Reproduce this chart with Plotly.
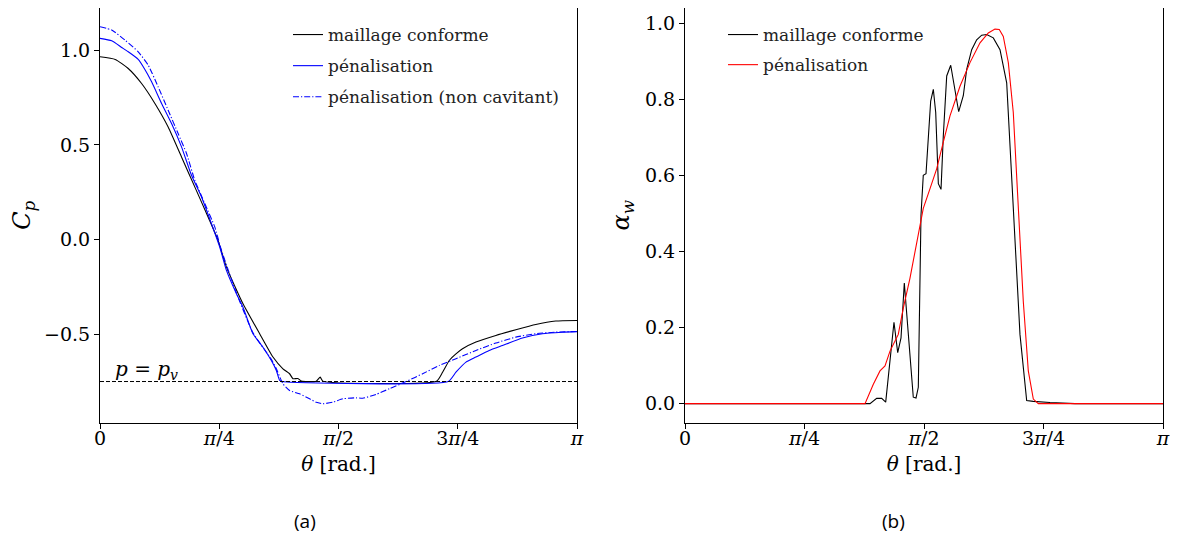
import numpy as np
import plotly.graph_objects as go

PI = np.pi

# ---------------- (a) pressure coefficient ----------------
# theta given as fraction of pi
cp_conf_theta = [0.0, 0.032, 0.0592, 0.0872, 0.1151, 0.1429, 0.1709, 0.1987, 0.2266, 0.2475,
                 0.2651, 0.2998, 0.3347, 0.3626, 0.3835, 0.3975, 0.4044, 0.4149, 0.4220,
                 0.4533, 0.4617, 0.4672, 0.7056, 0.7182, 0.7322, 0.7462, 0.7600, 0.7881,
                 0.8299, 0.8718, 0.9136, 0.9554, 1.0]
cp_conf = [0.965, 0.951, 0.903, 0.824, 0.719, 0.595, 0.437, 0.279, 0.120, -0.003,
           -0.144, -0.337, -0.495, -0.618, -0.680, -0.706, -0.732, -0.731, -0.745,
           -0.745, -0.724, -0.745, -0.745, -0.698, -0.636, -0.601, -0.574, -0.539,
           -0.504, -0.474, -0.446, -0.428, -0.425]

cp_pen_theta = [0.0, 0.0245, 0.0454, 0.0592, 0.0801, 0.0941, 0.1082, 0.1291, 0.1500, 0.1709,
                0.1918, 0.2128, 0.2337, 0.2510, 0.2651, 0.2860, 0.2998, 0.3207, 0.3416,
                0.3592, 0.3697, 0.3766, 0.3828, 0.7301, 0.7462, 0.7672, 0.7881, 0.8159,
                0.8437, 0.8856, 0.9274, 0.9692, 1.0]
cp_pen = [1.062, 1.049, 1.014, 0.991, 0.951, 0.898, 0.833, 0.719, 0.613, 0.490,
          0.340, 0.226, 0.085, -0.038, -0.161, -0.284, -0.355, -0.495, -0.566,
          -0.636, -0.689, -0.741, -0.747, -0.747, -0.698, -0.645, -0.618, -0.583,
          -0.557, -0.518, -0.495, -0.487, -0.484]

cp_nc_theta = [0.0, 0.0245, 0.0523, 0.0801, 0.1010, 0.1220, 0.1429, 0.1638, 0.1814, 0.1987,
               0.2197, 0.2406, 0.2546, 0.2860, 0.3207, 0.3592, 0.3697, 0.3835, 0.3975,
               0.4184, 0.4393, 0.4533, 0.4672, 0.4881, 0.5090, 0.5370, 0.5508, 0.5788,
               0.6067, 0.6416, 0.6764, 0.7113, 0.7462, 0.7881, 0.8299, 0.8718, 0.9136,
               0.9554, 1.0]
cp_nc = [1.123, 1.106, 1.053, 0.991, 0.921, 0.806, 0.683, 0.560, 0.455, 0.314,
         0.191, 0.068, -0.055, -0.280, -0.490, -0.630, -0.680, -0.759, -0.794,
         -0.812, -0.838, -0.856, -0.864, -0.856, -0.838, -0.833, -0.835, -0.815,
         -0.785, -0.747, -0.706, -0.662, -0.627, -0.583, -0.544, -0.513, -0.495,
         -0.487, -0.483]

PV_LEVEL = -0.747

# ---------------- (b) void fraction ----------------
aw_conf_theta = [0.0, 0.387, 0.401, 0.4115, 0.4199, 0.4372, 0.4450, 0.4519, 0.4588, 0.4776,
                 0.4833, 0.4881, 0.4937, 0.4985, 0.5042, 0.5090, 0.5140, 0.5195, 0.5245,
                 0.5300, 0.5356, 0.5404, 0.5475, 0.5559, 0.5649, 0.5726, 0.5822, 0.5893,
                 0.5998, 0.6102, 0.6207, 0.6312, 0.6450, 0.6590, 0.6730, 0.6868, 0.7008,
                 0.7148, 0.7287, 0.7636, 0.8159, 1.0]
aw_conf = [0.0, 0.0, 0.014, 0.014, 0.004, 0.214, 0.134, 0.173, 0.317, 0.017,
           0.015, 0.043, 0.495, 0.600, 0.604, 0.704, 0.795, 0.826, 0.765,
           0.578, 0.563, 0.704, 0.861, 0.889, 0.817, 0.767, 0.809, 0.878,
           0.930, 0.956, 0.968, 0.970, 0.961, 0.930, 0.843, 0.530, 0.182,
           0.008, 0.006, 0.003, 0.0, 0.0]

aw_pen_theta = [0.0, 0.3766, 0.3940, 0.4079, 0.4184, 0.4289, 0.4462, 0.4567, 0.4707, 0.4847,
                0.4985, 0.5126, 0.5265, 0.5404, 0.5544, 0.5753, 0.5962, 0.6172, 0.6345,
                0.6485, 0.6575, 0.6659, 0.6764, 0.6868, 0.6973, 0.7077, 0.7182, 0.7287,
                0.7391, 1.0]
aw_pen = [0.0, 0.0, 0.051, 0.086, 0.099, 0.138, 0.182, 0.251, 0.330, 0.426,
          0.513, 0.565, 0.617, 0.687, 0.756, 0.834, 0.896, 0.948, 0.974,
          0.984, 0.983, 0.965, 0.896, 0.765, 0.530, 0.269, 0.086, 0.012,
          0.0, 0.0]

x_tickvals = [0, PI / 4, PI / 2, 3 * PI / 4, PI]
x_ticktext = ["0", "<i>π</i>/4", "<i>π</i>/2", "3<i>π</i>/4", "<i>π</i>"]

SERIF = "DejaVu Serif"
SANS = "Open Sans"

# the page body adds an 8px offset; positions below are given in reference pixels
OFF = 8
W, H = 1178, 540


def px_x(p):
    return min(1.0, max(0.0, (p - OFF) / W))


def px_y(p):
    return min(1.0, max(0.0, 1 - (p - OFF) / H))


def rad(lst):
    return [v * PI for v in lst]


fig = go.Figure()

lw = 1.1
fig.add_trace(go.Scatter(x=rad(cp_conf_theta), y=cp_conf, mode="lines", name="maillage conforme",
                         line=dict(color="black", width=lw, shape="spline", smoothing=0.5),
                         xaxis="x", yaxis="y", legend="legend", legendgroup="a1"))
fig.add_trace(go.Scatter(x=rad(cp_pen_theta), y=cp_pen, mode="lines", name="pénalisation",
                         line=dict(color="#0000ff", width=lw, shape="spline", smoothing=0.5),
                         xaxis="x", yaxis="y", legend="legend", legendgroup="a2"))
fig.add_trace(go.Scatter(x=rad(cp_nc_theta), y=cp_nc, mode="lines", name="pénalisation (non cavitant)",
                         line=dict(color="#0000ff", width=lw, dash="6px,2px,1.2px,2px",
                                   shape="spline", smoothing=0.5),
                         xaxis="x", yaxis="y", legend="legend", legendgroup="a3"))
fig.add_trace(go.Scatter(x=[0, PI], y=[PV_LEVEL, PV_LEVEL], mode="lines", showlegend=False,
                         line=dict(color="black", width=1, dash="4px,2px"), xaxis="x", yaxis="y"))

fig.add_trace(go.Scatter(x=rad(aw_conf_theta), y=aw_conf, mode="lines", name="maillage conforme",
                         line=dict(color="black", width=lw), xaxis="x2", yaxis="y2",
                         legend="legend2", legendgroup="b1"))
fig.add_trace(go.Scatter(x=rad(aw_pen_theta), y=aw_pen, mode="lines", name="pénalisation",
                         line=dict(color="#ff0000", width=lw), xaxis="x2", yaxis="y2",
                         legend="legend2", legendgroup="b2"))

axis_common = dict(showline=True, linecolor="black", linewidth=1, mirror=True,
                   ticks="outside", ticklen=5, tickwidth=1, tickcolor="black",
                   showgrid=False, zeroline=False, automargin=False,
                   tickfont=dict(family=SERIF, size=19, color="black"))

ydom = [px_y(422.5), px_y(7.5)]

fig.update_layout(
    width=W, height=H,
    margin=dict(l=0, r=0, t=0, b=0, autoexpand=False),
    paper_bgcolor="white", plot_bgcolor="white",
    font=dict(family=SERIF, color="black"),
    xaxis=dict(domain=[px_x(100), px_x(577)], range=[0, PI], tickvals=x_tickvals, ticktext=x_ticktext,
               ticklabelstandoff=-6,
               title=dict(text="<i>θ</i> [rad.]", font=dict(family=SERIF, size=20), standoff=8),
               anchor="y", **axis_common),
    yaxis=dict(domain=ydom, range=[-0.963, 1.222],
               tickvals=[-0.5, 0.0, 0.5, 1.0], tickformat=".1f",
               title=dict(text="<i>C</i><sub><i>p</i></sub>", font=dict(family=SERIF, size=24), standoff=8),
               anchor="x", **axis_common),
    xaxis2=dict(domain=[px_x(685), px_x(1163)], range=[0, PI], tickvals=x_tickvals, ticktext=x_ticktext,
                ticklabelstandoff=-6,
                title=dict(text="<i>θ</i> [rad.]", font=dict(family=SERIF, size=20), standoff=8),
                anchor="y2", **axis_common),
    yaxis2=dict(domain=ydom, range=[-0.0495, 1.0395],
                tickvals=[0, 0.2, 0.4, 0.6, 0.8, 1.0], tickformat=".1f",
                title=dict(text="<i>α</i><sub><i>w</i></sub>", font=dict(family=SERIF, size=24), standoff=8),
                anchor="x2", **axis_common),
    legend=dict(x=px_x(288), y=px_y(17), xanchor="left", yanchor="top", bgcolor="rgba(0,0,0,0)",
                font=dict(family=SERIF, size=17, color="#222"), borderwidth=0, tracegroupgap=6),
    legend2=dict(x=px_x(723), y=px_y(17), xanchor="left", yanchor="top", bgcolor="rgba(0,0,0,0)",
                 font=dict(family=SERIF, size=17, color="#222"), borderwidth=0, tracegroupgap=5),
    showlegend=True,
)

fig.add_annotation(x=(113 - 100) / 477 * PI, y=PV_LEVEL, xref="x", yref="y", xanchor="left",
                   yanchor="bottom", text="<i>p</i> = <i>p</i><sub><i>v</i></sub>", showarrow=False,
                   font=dict(family=SERIF, size=20, color="black"), yshift=-3)

fig.add_annotation(x=px_x(305), y=px_y(521), xref="paper", yref="paper", text="(a)", showarrow=False,
                   xanchor="center", yanchor="middle", font=dict(family=SANS, size=19, color="black"))
fig.add_annotation(x=px_x(893), y=px_y(521), xref="paper", yref="paper", text="(b)", showarrow=False,
                   xanchor="center", yanchor="middle", font=dict(family=SANS, size=19, color="black"))

fig.write_html("out.html")
